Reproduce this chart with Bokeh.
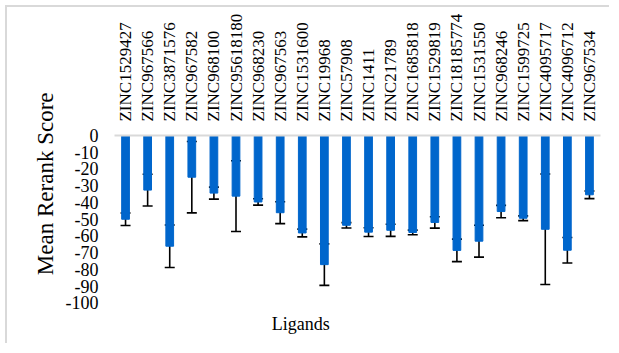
import math
from bokeh.plotting import figure
from bokeh.models import (ColumnDataSource, FactorRange, Range1d, FixedTicker,
                          Whisker, TeeHead, Label, Title, CustomJSTickFormatter)
from bokeh.embed import file_html
from bokeh.resources import INLINE

ligands = ["ZINC1529427", "ZINC967566", "ZINC3871576", "ZINC967582", "ZINC968100",
           "ZINC95618180", "ZINC968230", "ZINC967563", "ZINC1531600", "ZINC19968",
           "ZINC57908", "ZINC1411", "ZINC21789", "ZINC1685818", "ZINC1529819",
           "ZINC18185774", "ZINC1531550", "ZINC968246", "ZINC1599725", "ZINC4095717",
           "ZINC4096712", "ZINC967534"]
mean_score = [-50.0, -32.6, -66.1, -24.9, -34.4, -36.2, -39.7, -46.1, -58.2, -77.1,
              -53.6, -57.7, -56.6, -57.9, -51.9, -68.6, -63.1, -45.4, -49.4, -56.0,
              -68.5, -35.4]
std_err = [3.7, 9.5, 12.7, 21.3, 3.6, 21.1, 1.9, 6.5, 2.3, 12.4,
           1.6, 2.6, 3.6, 1.4, 3.4, 6.7, 9.5, 3.7, 1.4, 33.0,
           7.6, 2.3]
y_ticks = [0, -10, -20, -30, -40, -50, -60, -70, -80, -90, -100]

FONT = "Liberation Serif"

src = ColumnDataSource(dict(
    x=ligands,
    mean=mean_score,
    upper=[m + e for m, e in zip(mean_score, std_err)],
    lower=[m - e for m, e in zip(mean_score, std_err)],
))

p = figure(width=604, height=338, output_backend="svg", toolbar_location=None,
           x_range=FactorRange(factors=ligands), y_range=Range1d(-122.4, 0),
           x_axis_location="above",
           min_border_left=107, min_border_right=11, min_border_top=128,
           min_border_bottom=5)
p.outline_line_color = None
p.xgrid.grid_line_color = None
p.ygrid.grid_line_color = None
p.styles = {"margin": "5px 0 0 5px",
            "border-top": "2px solid #d9d9d9",
            "border-left": "2px solid #d9d9d9"}

p.vbar(x="x", top="mean", bottom=0, width=0.35, source=src,
       fill_color="#0066CC", line_color="#0066CC")

w = Whisker(base="x", upper="upper", lower="lower", source=src,
            line_color="black", line_width=1.6,
            upper_head=TeeHead(size=10, line_color="black", line_width=1.6),
            lower_head=TeeHead(size=10, line_color="black", line_width=1.6))
p.add_layout(w)

xa = p.xaxis[0]
xa.axis_line_color = "#d9d9d9"
xa.axis_line_width = 2
xa.major_tick_line_color = None
xa.minor_tick_line_color = None
xa.major_label_orientation = math.pi / 2
xa.major_label_standoff = 8
xa.major_label_text_font = FONT
xa.major_label_text_font_size = "17px"
xa.major_label_text_color = "black"

ya = p.yaxis[0]
ya.ticker = FixedTicker(ticks=y_ticks)
ya.formatter = CustomJSTickFormatter(code="return tick.toFixed(0);")
ya.axis_line_color = None
ya.major_tick_line_color = None
ya.minor_tick_line_color = None
ya.major_tick_out = 0
ya.major_label_standoff = 16
ya.major_label_text_font = FONT
ya.major_label_text_font_size = "18px"
ya.major_label_text_color = "black"

p.add_layout(Title(text="Mean Rerank Score", align="right", offset=-43,
                   vertical_align="bottom", standoff=10, text_font=FONT,
                   text_font_size="23px", text_font_style="normal",
                   text_color="black"), "left")

p.add_layout(Label(x=8.43, y=-112.4, text="Ligands", text_align="center",
                   text_baseline="alphabetic", text_font=FONT,
                   text_font_size="18px", text_color="black"))

open("out.html", "w").write(file_html(p, INLINE))
